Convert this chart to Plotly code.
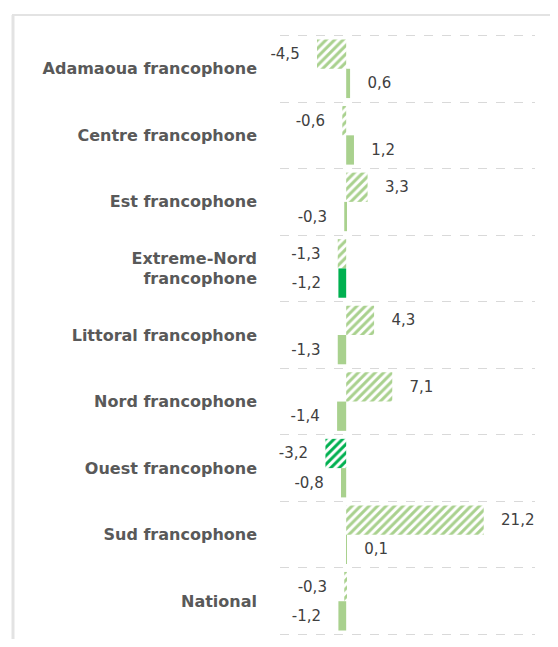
import plotly.graph_objects as go

# données
regions = [
    "Adamaoua francophone",
    "Centre francophone",
    "Est francophone",
    "Extreme-Nord<br>francophone",
    "Littoral francophone",
    "Nord francophone",
    "Ouest francophone",
    "Sud francophone",
    "National",
]
serie_hachuree = [-4.5, -0.6, 3.3, -1.3, 4.3, 7.1, -3.2, 21.2, -0.3]
serie_pleine = [0.6, 1.2, -0.3, -1.2, -1.3, -1.4, -0.8, 0.1, -1.2]

VERT_CLAIR = "#a9d18e"
VERT_FONCE = "#00b050"

couleurs_hachure = [VERT_FONCE if r.startswith("Ouest") else VERT_CLAIR for r in regions]
couleurs_pleine = [VERT_FONCE if r.startswith("Extreme") else VERT_CLAIR for r in regions]

# la page ajoute une marge de 8 px autour de la figure
W, H = 542, 631
ML, MR, MT, MB = 272, 15, 27, 4
pw = W - ML - MR
ph = H - MT - MB

etiquette = "\u00a0\u00a0\u00a0%{x:.1f}\u00a0\u00a0\u00a0"
police_valeurs = dict(family="DejaVu Sans", size=15, color="#404040")

fig = go.Figure()

fig.add_trace(go.Bar(
    y=regions,
    x=serie_hachuree,
    orientation="h",
    name="hachurée",
    marker=dict(
        color="white",
        line=dict(width=0),
        pattern=dict(shape="/", fgcolor=couleurs_hachure, bgcolor="white",
                     fgopacity=1, size=6, solidity=0.5),
    ),
    texttemplate=etiquette,
    textposition="outside",
    textfont=police_valeurs,
    cliponaxis=False,
))

fig.add_trace(go.Bar(
    y=regions,
    x=serie_pleine,
    orientation="h",
    name="pleine",
    marker=dict(color=couleurs_pleine, line=dict(width=0)),
    texttemplate=etiquette,
    textposition="outside",
    textfont=police_valeurs,
    cliponaxis=False,
))

grille = dict(color="#d9d9d9", width=1, dash="dash")

fig.update_layout(
    width=W,
    height=H,
    margin=dict(l=ML, r=MR, t=MT, b=MB),
    barmode="group",
    bargap=0.12,
    bargroupgap=0.0,
    separators=", ",
    showlegend=False,
    plot_bgcolor="white",
    paper_bgcolor="white",
    xaxis=dict(
        range=[-10.2, 29.1],
        showgrid=False,
        zeroline=False,
        showticklabels=False,
        showline=False,
    ),
    yaxis=dict(
        autorange="reversed",
        tickson="boundaries",
        showgrid=True,
        gridcolor="#d9d9d9",
        griddash="dash",
        gridwidth=1,
        ticks="",
        ticklabelstandoff=22,
        tickfont=dict(family="DejaVu Sans", size=16, color="#595959", weight="bold"),
    ),
    shapes=[
        # lignes de grille extrêmes
        dict(type="line", xref="paper", yref="y", x0=0, x1=1,
             y0=-0.5, y1=-0.5, line=grille),
        dict(type="line", xref="paper", yref="y", x0=0, x1=1,
             y0=len(regions) - 0.5, y1=len(regions) - 0.5, line=grille),
        # cadre du graphique
        dict(type="line", xref="paper", yref="paper",
             x0=(4 - ML) / pw, x1=1 + MR / pw, y0=1 + (MT - 7) / ph, y1=1 + (MT - 7) / ph,
             line=dict(color="#e3e3e3", width=2)),
        dict(type="line", xref="paper", yref="paper",
             x0=(5 - ML) / pw, x1=(5 - ML) / pw, y0=1 + (MT - 7) / ph, y1=-MB / ph,
             line=dict(color="#e3e3e3", width=3)),
    ],
)

fig.write_html("out.html")
